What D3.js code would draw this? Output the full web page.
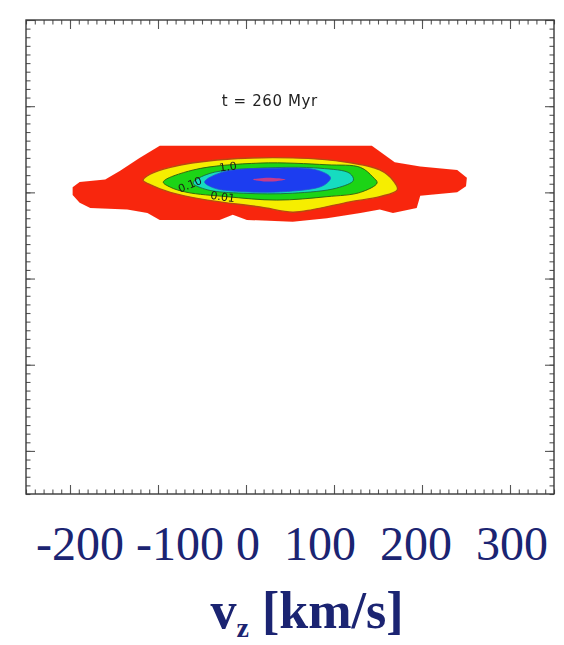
<!DOCTYPE html>
<html>
<head>
<meta charset="utf-8">
<script src="https://cdn.jsdelivr.net/npm/d3@7"></script>
<style>
  html, body { margin: 0; padding: 0; background: #ffffff; }
  svg { display: block; }
</style>
</head>
<body>
<svg id="chart" width="564" height="645"></svg>
<script>
// ---- data -------------------------------------------------------------
// axis ranges and ticks
const vzDomain = [-250, 350];          // km/s
const yDomain = [-0.5, 5];
const vzMajorTicks = [-200, -100, 0, 100, 200, 300];
const tickLabels = ["-200", "-100", "0", "100", "200", "300"];
const timeLabel = "t = 260 Myr";

// filled contour levels, outermost first: [vz, y] outlines
const levelRed = [
  [-98, 3.54], [143, 3.54], [169, 3.35], [198, 3.30], [240, 3.26], [251, 3.17],
  [250, 3.07], [240, 3.00], [198, 2.96], [194, 2.82], [167, 2.76], [152, 2.80],
  [130, 2.76], [92, 2.70], [53, 2.66], [1, 2.68], [-15, 2.74], [-30, 2.68],
  [-98, 2.68], [-112, 2.76], [-135, 2.80], [-177, 2.82], [-189, 2.88],
  [-197, 2.97], [-197, 3.06], [-189, 3.12], [-160, 3.15], [-143, 3.25],
  [-121, 3.40]
];
const levelYellow = [
  [-117, 3.14], [-109, 3.21], [-86, 3.29], [-33, 3.375], [53, 3.40], [115, 3.35],
  [152, 3.26], [167, 3.14], [172, 3.03], [152, 2.95], [118, 2.89], [76, 2.80],
  [53, 2.77], [16, 2.83], [-44, 2.91], [-86, 3.00], [-109, 3.09]
];
const levelGreen = [
  [-94, 3.12], [-60, 3.26], [16, 3.34], [92, 3.32], [130, 3.29], [144, 3.18],
  [149, 3.11], [130, 3.00], [92, 2.95], [35, 2.91], [-22, 2.95], [-67, 3.00],
  [-86, 3.06]
];
const levelCyan = [
  [-60, 3.11], [-41, 3.22], [16, 3.28], [84, 3.28], [118, 3.22], [122, 3.14],
  [103, 3.05], [53, 2.99], [-3, 2.99], [-44, 3.03]
];
const levelBlue = [
  [-47, 3.12], [-25, 3.24], [31, 3.28], [80, 3.26], [96, 3.17], [88, 3.08],
  [47, 3.01], [-7, 3.01], [-36, 3.05]
];
const levelPeak = [[8, 3.15], [25, 3.17], [45, 3.15], [25, 3.125]];

// contour line labels: text, position [vz, y], rotation
const contourLabels = [
  { text: "1.0",  at: [-20, 3.255], rot: -8 },
  { text: "0.10", at: [-62, 3.05],  rot: -22 },
  { text: "0.01", at: [-27, 2.905], rot: 8 }
];

// ---- layout -----------------------------------------------------------
const frame = { left: 26, right: 554, top: 20, bottom: 494 };
const svg = d3.select("#chart");

const x = d3.scaleLinear().domain(vzDomain).range([frame.left, frame.right]);
const y = d3.scaleLinear().domain(yDomain).range([frame.bottom, frame.top]);

const defs = svg.append("defs");
defs.append("filter").attr("id", "soft")
  .append("feGaussianBlur").attr("stdDeviation", 0.7);
defs.append("filter").attr("id", "softer")
  .append("feGaussianBlur").attr("stdDeviation", 0.45);

// ---- contours ---------------------------------------------------------
const blocky = d3.line().x(d => x(d[0])).y(d => y(d[1])).curve(d3.curveLinearClosed);
const smooth = d3.line().x(d => x(d[0])).y(d => y(d[1])).curve(d3.curveCatmullRomClosed.alpha(0.5));

const g = svg.append("g").attr("filter", "url(#soft)");
g.append("path").attr("d", blocky(levelRed)).attr("fill", "#f8280c");
g.append("path").attr("d", smooth(levelYellow)).attr("fill", "#f6ee06")
  .attr("stroke", "#b84a10").attr("stroke-width", 1.4);
g.append("path").attr("d", smooth(levelGreen)).attr("fill", "#1ed412")
  .attr("stroke", "#2f5a10").attr("stroke-width", 0.9);
g.append("path").attr("d", smooth(levelCyan)).attr("fill", "#14dcc0")
  .attr("stroke", "#1d5a40").attr("stroke-width", 0.8);
g.append("path").attr("d", smooth(levelBlue)).attr("fill", "#1a3ef0")
  .attr("stroke", "#2a50d0").attr("stroke-width", 0.8);
g.append("path").attr("d", smooth(levelPeak)).attr("fill", "#c43a8c");

g.selectAll("text.clab").data(contourLabels).join("text")
  .attr("class", "clab")
  .attr("transform", d => `translate(${x(d.at[0])},${y(d.at[1])}) rotate(${d.rot})`)
  .attr("text-anchor", "middle")
  .attr("font-family", "DejaVu Sans, sans-serif")
  .attr("font-size", 11)
  .attr("fill", "#1a1a1a")
  .text(d => d.text);

// ---- frame and ticks (inward, all four sides) -------------------------
const axes = svg.append("g").attr("filter", "url(#softer)");
const vzMinor = d3.range(vzDomain[0], vzDomain[1] + 0.1, 10);
const yMinor = d3.range(yDomain[0], yDomain[1] + 0.01, 0.1).map(v => +v.toFixed(2));
const yMajor = d3.range(0, yDomain[1] + 0.01, 1);

function styleAxis(sel) {
  sel.select(".domain").remove();
  sel.selectAll("line").attr("stroke", "#555").attr("stroke-width", 1.1);
  sel.selectAll("text").remove();
}
const sides = [
  [d3.axisBottom(x), `translate(0,${frame.bottom})`, vzMinor, vzMajorTicks],
  [d3.axisTop(x),    `translate(0,${frame.top})`,    vzMinor, vzMajorTicks],
  [d3.axisLeft(y),   `translate(${frame.left},0)`,   yMinor,  yMajor],
  [d3.axisRight(y),  `translate(${frame.right},0)`,  yMinor,  yMajor]
];
sides.forEach(([ax, tr, minor, major]) => {
  axes.append("g").attr("transform", tr)
    .call(ax.tickValues(minor).tickSize(-4.5).tickFormat(""))
    .call(styleAxis);
  axes.append("g").attr("transform", tr)
    .call(ax.tickValues(major).tickSize(-9).tickFormat(""))
    .call(styleAxis);
});
axes.append("rect")
  .attr("x", frame.left).attr("y", frame.top)
  .attr("width", frame.right - frame.left).attr("height", frame.bottom - frame.top)
  .attr("fill", "none").attr("stroke", "#3a3a3a").attr("stroke-width", 1.4);

// in-plot time stamp
svg.append("text")
  .attr("x", x(27)).attr("y", y(4.0))
  .attr("text-anchor", "middle")
  .attr("font-family", "DejaVu Sans, sans-serif")
  .attr("font-size", 15)
  .attr("letter-spacing", 0.6)
  .attr("fill", "#222")
  .attr("filter", "url(#softer)")
  .text(timeLabel);

// ---- axis caption -----------------------------------------------------
const navy = "#1b2472";
svg.append("text")
  .attr("x", 292).attr("y", 560)
  .attr("text-anchor", "middle")
  .attr("font-family", "Liberation Serif, Times New Roman, serif")
  .attr("font-size", 48)
  .attr("fill", navy)
  .style("white-space", "pre")
  .text(tickLabels.map((t, i) => i < 2 ? t + " " : t + "  ").join("").trimEnd());

const title = svg.append("text")
  .attr("x", 307).attr("y", 628)
  .attr("text-anchor", "middle")
  .attr("font-family", "Liberation Serif, Times New Roman, serif")
  .attr("font-weight", "bold")
  .attr("font-size", 52)
  .attr("fill", navy);
title.append("tspan").text("v");
title.append("tspan").attr("font-size", 28).attr("dy", 9).text("z");
title.append("tspan").attr("dy", -9).text(" [km/s]");
</script>
</body>
</html>
